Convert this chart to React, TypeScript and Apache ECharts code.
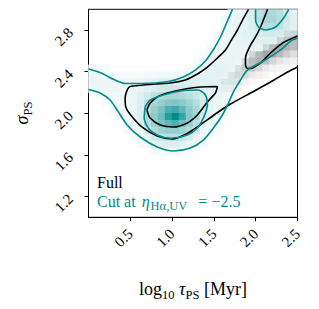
import React, { useEffect, useRef } from 'react';
import * as echarts from 'echarts';

// ---- axes ----
const X_MIN = 0.0;
const X_MAX = 2.5;
const Y_MIN = 1.0;
const Y_MAX = 3.0;
const N_BINS_X = 30;
const N_BINS_Y = 30;
const X_TICKS = [0.5, 1.0, 1.5, 2.0, 2.5];
const Y_TICKS = [1.2, 1.6, 2.0, 2.4, 2.8];

// ---- 2D histogram of the cut sample: [row j (from bottom), first column i, values 0-100] ----
const cutHistRows: [number, number, number[]][] = [
  [29, 20, [6, 8, 10, 14, 25, 32, 32, 28, 18, 12]],
  [28, 19, [5, 7, 9, 11, 15, 28, 35, 35, 28, 18, 12]],
  [27, 19, [5, 7, 9, 11, 14, 20, 28, 28, 24, 16, 12]],
  [26, 18, [4, 6, 8, 9, 11, 13, 16, 18, 18, 16, 13, 10]],
  [25, 18, [5, 6, 8, 9, 10, 11, 12, 13, 12, 10, 6, 0]],
  [24, 17, [4, 6, 7, 8, 9, 9, 9, 9, 8, 6, 4]],
  [23, 16, [4, 5, 7, 8, 9, 9, 8, 7, 6, 4]],
  [22, 15, [4, 5, 7, 8, 9, 9, 8, 7, 5, 3]],
  [21, 0, [5, 5, 4, 0, 0, 0, 0, 0, 0, 0, 0, 0, 0, 3, 4, 6, 7, 9, 10, 10, 9, 8, 6, 4]],
  [20, 0, [7, 7, 6, 5, 4, 4, 4, 4, 5, 5, 6, 6, 6, 7, 8, 9, 10, 11, 11, 10, 9, 7, 5]],
  [19, 0, [8, 8, 8, 7, 7, 6, 7, 8, 10, 11, 12, 13, 13, 13, 13, 13, 12, 12, 11, 10, 8, 6]],
  [18, 0, [7, 7, 7, 7, 7, 7, 8, 9, 12, 15, 18, 20, 20, 18, 16, 14, 12, 11, 10, 8, 6]],
  [17, 0, [0, 4, 5, 6, 6, 7, 8, 12, 18, 25, 30, 35, 35, 32, 28, 22, 15, 10, 9, 7, 5]],
  [16, 2, [3, 4, 5, 6, 8, 14, 25, 35, 42, 48, 50, 45, 38, 30, 18, 10, 8, 6, 4]],
  [15, 3, [4, 5, 6, 8, 15, 30, 42, 52, 70, 75, 62, 45, 35, 18, 10, 7, 5]],
  [14, 4, [4, 6, 8, 15, 32, 45, 58, 85, 100, 78, 48, 35, 16, 9, 6, 4]],
  [13, 5, [5, 7, 12, 28, 40, 52, 62, 70, 55, 42, 28, 12, 7, 5]],
  [12, 5, [4, 6, 8, 18, 30, 38, 42, 42, 38, 30, 18, 8, 5, 3]],
  [11, 6, [4, 6, 10, 18, 24, 28, 28, 24, 18, 10, 5, 3]],
  [10, 7, [4, 6, 8, 12, 14, 14, 12, 8, 5, 3]],
  [9, 9, [3, 4, 5, 5, 4, 3]],
];

// ---- 2D histogram of the full sample (visible part) ----
const fullHistRows: [number, number, number[]][] = [
  [26, 28, [10, 15]],
  [25, 27, [15, 25, 30]],
  [24, 25, [15, 30, 38, 35, 30]],
  [23, 23, [15, 30, 40, 40, 32, 22, 15]],
  [22, 22, [12, 28, 35, 30, 20, 12, 8, 6]],
  [21, 21, [10, 20, 25, 18, 10, 6, 4, 3]],
  [20, 20, [8, 14, 15, 10, 6, 3]],
  [19, 19, [6, 9, 9, 6, 3]],
  [18, 19, [4, 5, 4]],
];

// ---- contours (log10 tau, sigma) ----
const fullOuterContour: number[][] = [
  [1.914, 3.0], [1.842, 2.897], [1.782, 2.801], [1.71, 2.705], [1.638, 2.609],
  [1.542, 2.532], [1.422, 2.445], [1.302, 2.378], [1.158, 2.32], [0.978, 2.291],
  [0.798, 2.282], [0.594, 2.267], [0.486, 2.253], [0.438, 2.147], [0.45, 2.051],
  [0.534, 1.955], [0.654, 1.859], [0.822, 1.782], [1.002, 1.753], [1.17, 1.801],
  [1.338, 1.888], [1.518, 1.993], [1.698, 2.089], [1.938, 2.195], [2.178, 2.301],
  [2.382, 2.397], [2.5, 2.445],
];
const fullTongueContour: number[][] = [
  [2.142, 3.0], [2.106, 2.926], [2.058, 2.83], [1.998, 2.734], [1.926, 2.637],
  [1.878, 2.532], [1.878, 2.464], [1.902, 2.431], [1.962, 2.436], [2.058, 2.484],
  [2.178, 2.58], [2.322, 2.676], [2.5, 2.743],
];
const fullInnerContour: number[][] = [
  [0.698, 2.032], [0.738, 2.099], [0.822, 2.157], [0.942, 2.195], [1.158, 2.234],
  [1.338, 2.253], [1.542, 2.258], [1.518, 2.195], [1.422, 2.109], [1.302, 1.984],
  [1.182, 1.907], [1.014, 1.868], [0.858, 1.888], [0.738, 1.955], [0.698, 2.032],
];
const cutOuterUpper: number[][] = [
  [0.0, 2.426], [0.15, 2.388], [0.318, 2.32], [0.438, 2.287], [0.63, 2.287],
  [0.954, 2.306], [1.134, 2.349], [1.278, 2.416], [1.398, 2.503], [1.506, 2.628],
  [1.59, 2.753], [1.662, 2.888], [1.722, 3.0],
];
const cutOuterLower: number[][] = [
  [0.0, 2.229], [0.138, 2.195], [0.258, 2.128], [0.342, 2.032], [0.462, 1.888],
  [0.618, 1.772], [0.822, 1.676], [1.014, 1.637], [1.218, 1.666], [1.374, 1.743],
  [1.494, 1.859], [1.602, 1.984], [1.674, 2.099], [1.734, 2.205], [1.818, 2.32],
  [1.902, 2.416], [2.094, 2.503], [2.298, 2.609], [2.418, 2.695], [2.5, 2.724],
];
const cutInnerContour: number[][] = [
  [0.678, 2.063], [0.738, 2.128], [0.894, 2.176], [1.098, 2.214], [1.314, 2.224],
  [1.398, 2.176], [1.422, 2.08], [1.374, 1.955], [1.302, 1.859], [1.182, 1.791],
  [0.978, 1.76], [0.822, 1.791], [0.714, 1.859], [0.666, 1.955], [0.678, 2.063],
];
const cutInnerTop: number[][] = [
  [1.998, 3.0], [1.998, 2.897], [2.034, 2.83], [2.118, 2.801], [2.238, 2.83],
  [2.334, 2.916], [2.394, 3.0],
];

const TEAL = '#008b8b';
const SERIF = '"Liberation Serif", "DejaVu Serif", serif';

const DX = (X_MAX - X_MIN) / N_BINS_X;
const DY = (Y_MAX - Y_MIN) / N_BINS_Y;

function buildCells() {
  const map = new Map<string, [number, number, number, number]>();
  const get = (i: number, j: number) => {
    const k = i + ',' + j;
    if (!map.has(k)) map.set(k, [X_MIN + (i + 0.5) * DX, Y_MIN + (j + 0.5) * DY, 0, 0]);
    return map.get(k)!;
  };
  fullHistRows.forEach(([j, i0, vals]) => vals.forEach((v, k) => { if (v > 0) get(i0 + k, j)[3] = v; }));
  cutHistRows.forEach(([j, i0, vals]) => vals.forEach((v, k) => { if (v > 0) get(i0 + k, j)[2] = v; }));
  return Array.from(map.values());
}

function cellColor(t: number, g: number) {
  let r = 255, gg = 255, b = 255;
  const ag = Math.min(1, (g / 100) * 0.85);
  r *= 1 - ag; gg *= 1 - ag; b *= 1 - ag;
  const at = Math.min(1, t / 100);
  r = r * (1 - at) + 0 * at;
  gg = gg * (1 - at) + 0x8b * at;
  b = b * (1 - at) + 0x8b * at;
  return `rgb(${Math.round(r)},${Math.round(gg)},${Math.round(b)})`;
}

function lineSeries(data: number[][], color: string) {
  return {
    type: 'line',
    data,
    showSymbol: false,
    symbol: 'none',
    smooth: 0.25,
    silent: true,
    clip: true,
    z: 5,
    lineStyle: { color, width: 1.6 },
  };
}

export default function App() {
  const ref = useRef<HTMLDivElement>(null);
  useEffect(() => {
    document.body.style.margin = '0';
    const chart = echarts.init(ref.current!, null, { renderer: 'svg' });
    const cells = buildCells();
    const option: any = {
      animation: false,
      backgroundColor: '#ffffff',
      grid: {
        left: 88.5, top: 9.3, width: 209, height: 208,
        show: true, borderColor: '#000', borderWidth: 1, backgroundColor: '#fff',
      },
      xAxis: {
        type: 'value', min: X_MIN, max: X_MAX,
        splitLine: { show: false },
        axisLine: { show: true, onZero: false, lineStyle: { color: '#000', width: 1 } },
        axisTick: { show: true, length: 4, customValues: X_TICKS, lineStyle: { color: '#000' } },
        axisLabel: {
          customValues: X_TICKS, rotate: 45, margin: 14,
          formatter: (v: number) => v.toFixed(1),
          fontFamily: SERIF, fontSize: 15, color: '#000',
        },
      },
      yAxis: {
        type: 'value', min: Y_MIN, max: Y_MAX,
        splitLine: { show: false },
        axisLine: { show: true, onZero: false, lineStyle: { color: '#000', width: 1 } },
        axisTick: { show: true, length: 4, customValues: Y_TICKS, lineStyle: { color: '#000' } },
        axisLabel: {
          customValues: Y_TICKS, rotate: 45, margin: 18,
          formatter: (v: number) => v.toFixed(1),
          fontFamily: SERIF, fontSize: 15, color: '#000',
        },
      },
      series: [
        {
          type: 'custom',
          data: cells,
          encode: { x: 0, y: 1 },
          clip: true,
          silent: true,
          z: 1,
          renderItem: (params: any, api: any) => {
            const x = api.value(0), y = api.value(1);
            const t = api.value(2), g = api.value(3);
            const c = api.coord([x, y]);
            const s = api.size([DX, DY]);
            return {
              type: 'rect',
              shape: { x: c[0] - s[0] / 2 - 0.3, y: c[1] - s[1] / 2 - 0.3, width: s[0] + 0.6, height: s[1] + 0.6 },
              style: { fill: cellColor(t, g), stroke: null },
            };
          },
        },
        lineSeries(fullOuterContour, '#000'),
        lineSeries(fullTongueContour, '#000'),
        lineSeries(fullInnerContour, '#000'),
        lineSeries(cutOuterUpper, TEAL),
        lineSeries(cutOuterLower, TEAL),
        lineSeries(cutInnerContour, TEAL),
        lineSeries(cutInnerTop, TEAL),
      ],
      graphic: [
        {
          type: 'text', left: 97, top: 174, z: 10,
          style: { text: 'Full', fontFamily: SERIF, fontSize: 16, fill: '#000' },
        },
        {
          type: 'text', left: 97, top: 193, z: 10,
          style: {
            text: '{a|Cut at }{i|η}{s|Hα,UV}{e|=}{a|−2.5}',
            fill: TEAL,
            rich: {
              a: { fontFamily: SERIF, fontSize: 16, lineHeight: 22, fill: TEAL },
              e: { fontFamily: SERIF, fontSize: 16, lineHeight: 22, fill: TEAL, padding: [0, 4, 0, 11] },
              i: { fontFamily: SERIF, fontSize: 16, fontStyle: 'italic', lineHeight: 22, fill: TEAL, padding: [0, 1, 0, 2] },
              s: { fontFamily: SERIF, fontSize: 12.5, lineHeight: 12, verticalAlign: 'bottom', fill: TEAL },
            },
          },
        },
        {
          type: 'text', x: 193, y: 289, z: 10,
          style: {
            text: '{a|log}{s|10}{a| }{i|τ}{s|PS}{a| [Myr]}',
            align: 'center', verticalAlign: 'middle', fill: '#000',
            rich: {
              a: { fontFamily: SERIF, fontSize: 18, lineHeight: 24 },
              i: { fontFamily: SERIF, fontSize: 18, fontStyle: 'italic', lineHeight: 24 },
              s: { fontFamily: SERIF, fontSize: 12.5, lineHeight: 12, verticalAlign: 'bottom' },
            },
          },
        },
        {
          type: 'text', x: 22, y: 113, rotation: Math.PI / 2, z: 10,
          style: {
            text: '{i|σ}{s|PS}',
            align: 'center', verticalAlign: 'middle', fill: '#000',
            rich: {
              i: { fontFamily: SERIF, fontSize: 18, fontStyle: 'italic', lineHeight: 24 },
              s: { fontFamily: SERIF, fontSize: 12.5, lineHeight: 12, verticalAlign: 'bottom' },
            },
          },
        },
      ],
    };
    chart.setOption(option);
    return () => chart.dispose();
  }, []);
  return <div ref={ref} style={{ width: 319, height: 309 }} />;
}
